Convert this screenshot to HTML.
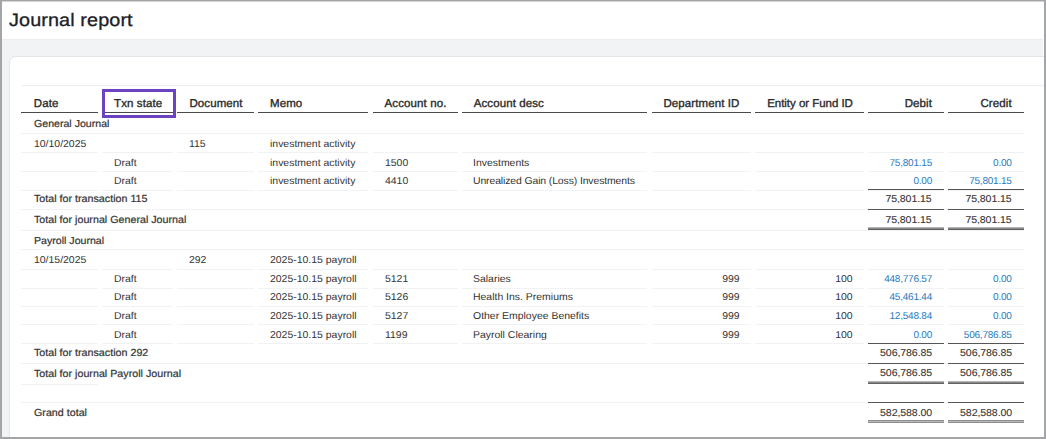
<!DOCTYPE html>
<html><head><meta charset="utf-8"><title>Journal report</title>
<style>
*{margin:0;padding:0;box-sizing:border-box}
html,body{width:1046px;height:439px;overflow:hidden;background:#fff}
body{position:relative;font-family:"Liberation Sans", Arial, sans-serif;color:#333;text-rendering:geometricPrecision}
.frame{position:absolute;left:0;top:0;width:1046px;height:439px;border:2px solid #a4a5a7;border-top-width:1px;pointer-events:none;z-index:10}
.title{position:absolute;left:9.2px;font-size:18px;line-height:22px;letter-spacing:0.1px;transform:scaleX(1.1);transform-origin:0 0;color:#1e2126;white-space:nowrap;-webkit-text-stroke:0.3px #1e2126}
.band{position:absolute;left:2px;top:39px;width:1041px;height:400px;background:#f1f3f5;border-top:1px solid #ebeef1}
.card{position:absolute;left:9px;top:56px;width:1046px;height:420px;background:#fff;border:1px solid #e2e6ea;border-radius:6px}
.topline{position:absolute;left:21.5px;top:84.5px;width:1022px;height:1px;background:#eceef0}
.t{position:absolute;white-space:nowrap}
.t i{font-style:normal;letter-spacing:-1.3px}
.h{color:#2a2a2a;-webkit-text-stroke:0.35px #2a2a2a;letter-spacing:0.1px}
.bl{color:#2878c0;letter-spacing:-0.22px}
.tn{color:#333;letter-spacing:-0.1px;-webkit-text-stroke:0.1px #333}
.tt{color:#333;-webkit-text-stroke:0.2px #333}
.ln{position:absolute}
.sel{position:absolute;left:102px;top:89px;width:74px;height:29px;border:3px solid #6a42c2;z-index:5}
</style></head><body>
<div class="band"></div>
<div class="card"></div>
<div class="topline"></div>
<div class="title" style="top:8.8px">Journal report</div>
<span class="t h" style="top:98.00px;font-size:11.5px;line-height:13.8px;left:33.80px;">Date</span>
<div class="ln" style="left:21px;width:77px;top:112px;height:1px;background:#4a4a4a"></div>
<span class="t h" style="top:98.00px;font-size:11.5px;line-height:13.8px;left:114.10px;">Txn state</span>
<div class="ln" style="left:102.5px;width:70.5px;top:112px;height:1px;background:#4a4a4a"></div>
<span class="t h" style="top:98.00px;font-size:11.5px;line-height:13.8px;left:189.40px;">Document</span>
<div class="ln" style="left:177px;width:76.5px;top:112px;height:1px;background:#4a4a4a"></div>
<span class="t h" style="top:98.00px;font-size:11.5px;line-height:13.8px;left:270.00px;">Memo</span>
<div class="ln" style="left:258px;width:110px;top:112px;height:1px;background:#4a4a4a"></div>
<span class="t h" style="top:98.00px;font-size:11.5px;line-height:13.8px;left:384.60px;">Account no.</span>
<div class="ln" style="left:372.5px;width:85.0px;top:112px;height:1px;background:#4a4a4a"></div>
<span class="t h" style="top:98.00px;font-size:11.5px;line-height:13.8px;left:473.70px;">Account desc</span>
<div class="ln" style="left:462px;width:185px;top:112px;height:1px;background:#4a4a4a"></div>
<span class="t h" style="top:98.00px;font-size:11.5px;line-height:13.8px;right:306.50px;">Department ID</span>
<div class="ln" style="left:651.5px;width:99.0px;top:112px;height:1px;background:#4a4a4a"></div>
<span class="t h" style="top:98.00px;font-size:11.5px;line-height:13.8px;right:193.20px;"><span style="letter-spacing:-0.04px">Entity or Fund ID</span></span>
<div class="ln" style="left:754.5px;width:109.5px;top:112px;height:1px;background:#4a4a4a"></div>
<span class="t h" style="top:98.00px;font-size:11.5px;line-height:13.8px;right:114.00px;">Debit</span>
<div class="ln" style="left:868px;width:76px;top:112px;height:1px;background:#4a4a4a"></div>
<span class="t h" style="top:98.00px;font-size:11.5px;line-height:13.8px;right:34.30px;">Credit</span>
<div class="ln" style="left:948px;width:76px;top:112px;height:1px;background:#4a4a4a"></div>
<span class="t tt" style="top:119.00px;font-size:10.1px;line-height:12.12px;left:33.80px;transform:scaleX(1.05);transform-origin:0 0;">General Journal</span>
<div class="ln" style="left:21px;width:1003px;top:133px;height:1px;background:#f1f2f4"></div>
<span class="t" style="top:139.00px;font-size:10.0px;line-height:12.0px;left:33.80px;transform:scaleX(1.045);transform-origin:0 0;">10/10/2025</span>
<span class="t" style="top:139.00px;font-size:10.0px;line-height:12.0px;left:189.40px;transform:scaleX(1.045);transform-origin:0 0;">115</span>
<span class="t" style="top:139.00px;font-size:10.0px;line-height:12.0px;left:270.00px;transform:scaleX(1.045);transform-origin:0 0;">investment activity</span>
<div class="ln" style="left:21px;width:77px;top:152.2px;height:1px;background:#f1f2f4"></div>
<div class="ln" style="left:102.5px;width:70.5px;top:152.2px;height:1px;background:#f1f2f4"></div>
<div class="ln" style="left:177px;width:76.5px;top:152.2px;height:1px;background:#f1f2f4"></div>
<div class="ln" style="left:258px;width:110px;top:152.2px;height:1px;background:#f1f2f4"></div>
<div class="ln" style="left:372.5px;width:85.0px;top:152.2px;height:1px;background:#f1f2f4"></div>
<div class="ln" style="left:462px;width:185px;top:152.2px;height:1px;background:#f1f2f4"></div>
<div class="ln" style="left:651.5px;width:99.0px;top:152.2px;height:1px;background:#f1f2f4"></div>
<div class="ln" style="left:754.5px;width:109.5px;top:152.2px;height:1px;background:#f1f2f4"></div>
<div class="ln" style="left:868px;width:76px;top:152.2px;height:1px;background:#f1f2f4"></div>
<div class="ln" style="left:948px;width:76px;top:152.2px;height:1px;background:#f1f2f4"></div>
<span class="t" style="top:158.00px;font-size:10.0px;line-height:12.0px;left:114.10px;transform:scaleX(1.045);transform-origin:0 0;">Draft</span>
<span class="t" style="top:158.00px;font-size:10.0px;line-height:12.0px;left:270.00px;transform:scaleX(1.045);transform-origin:0 0;">investment activity</span>
<span class="t" style="top:158.00px;font-size:10.0px;line-height:12.0px;left:384.60px;transform:scaleX(1.045);transform-origin:0 0;">1500</span>
<span class="t" style="top:158.00px;font-size:10.0px;line-height:12.0px;left:473.10px;transform:scaleX(1.045);transform-origin:0 0;">Investments</span>
<span class="t bl" style="top:158.00px;font-size:10.0px;line-height:12.0px;right:114.00px;">75,801.15</span>
<span class="t bl" style="top:158.00px;font-size:10.0px;line-height:12.0px;right:34.30px;">0.00</span>
<div class="ln" style="left:21px;width:77px;top:171px;height:1px;background:#f1f2f4"></div>
<div class="ln" style="left:102.5px;width:70.5px;top:171px;height:1px;background:#f1f2f4"></div>
<div class="ln" style="left:177px;width:76.5px;top:171px;height:1px;background:#f1f2f4"></div>
<div class="ln" style="left:258px;width:110px;top:171px;height:1px;background:#f1f2f4"></div>
<div class="ln" style="left:372.5px;width:85.0px;top:171px;height:1px;background:#f1f2f4"></div>
<div class="ln" style="left:462px;width:185px;top:171px;height:1px;background:#f1f2f4"></div>
<div class="ln" style="left:651.5px;width:99.0px;top:171px;height:1px;background:#f1f2f4"></div>
<div class="ln" style="left:754.5px;width:109.5px;top:171px;height:1px;background:#f1f2f4"></div>
<div class="ln" style="left:868px;width:76px;top:171px;height:1px;background:#f1f2f4"></div>
<div class="ln" style="left:948px;width:76px;top:171px;height:1px;background:#f1f2f4"></div>
<span class="t" style="top:176.00px;font-size:10.0px;line-height:12.0px;left:114.10px;transform:scaleX(1.045);transform-origin:0 0;">Draft</span>
<span class="t" style="top:176.00px;font-size:10.0px;line-height:12.0px;left:270.00px;transform:scaleX(1.045);transform-origin:0 0;">investment activity</span>
<span class="t" style="top:176.00px;font-size:10.0px;line-height:12.0px;left:384.60px;transform:scaleX(1.045);transform-origin:0 0;">4410</span>
<span class="t" style="top:176.00px;font-size:10.0px;line-height:12.0px;left:473.10px;transform:scaleX(1.045);transform-origin:0 0;"><span style="letter-spacing:-0.12px">Unrealized Gain (Loss) Investments</span></span>
<span class="t bl" style="top:176.00px;font-size:10.0px;line-height:12.0px;right:114.00px;">0.00</span>
<span class="t bl" style="top:176.00px;font-size:10.0px;line-height:12.0px;right:34.30px;">75,801.15</span>
<div class="ln" style="left:21px;width:77px;top:189.5px;height:1px;background:#f1f2f4"></div>
<div class="ln" style="left:102.5px;width:70.5px;top:189.5px;height:1px;background:#f1f2f4"></div>
<div class="ln" style="left:177px;width:76.5px;top:189.5px;height:1px;background:#f1f2f4"></div>
<div class="ln" style="left:258px;width:110px;top:189.5px;height:1px;background:#f1f2f4"></div>
<div class="ln" style="left:372.5px;width:85.0px;top:189.5px;height:1px;background:#f1f2f4"></div>
<div class="ln" style="left:462px;width:185px;top:189.5px;height:1px;background:#f1f2f4"></div>
<div class="ln" style="left:651.5px;width:99.0px;top:189.5px;height:1px;background:#f1f2f4"></div>
<div class="ln" style="left:754.5px;width:109.5px;top:189.5px;height:1px;background:#f1f2f4"></div>
<div class="ln" style="left:868px;width:76px;top:189.5px;height:1px;background:#f1f2f4"></div>
<div class="ln" style="left:948px;width:76px;top:189.5px;height:1px;background:#f1f2f4"></div>
<span class="t tt" style="top:194.00px;font-size:10.3px;line-height:12.36px;left:33.80px;transform:scaleX(1.04);transform-origin:0 0;">Total for transaction 115</span>
<span class="t tn" style="top:194.00px;font-size:10.0px;line-height:12.0px;right:114.00px;transform:scaleX(1.06);transform-origin:100% 0;">75,801.15</span>
<span class="t tn" style="top:194.00px;font-size:10.0px;line-height:12.0px;right:34.30px;transform:scaleX(1.06);transform-origin:100% 0;">75,801.15</span>
<div class="ln" style="left:21px;width:1003px;top:208.6px;height:1px;background:#f1f2f4"></div>
<span class="t tt" style="top:215.00px;font-size:10.3px;line-height:12.36px;left:33.80px;transform:scaleX(1.04);transform-origin:0 0;">Total for journal General Journal</span>
<span class="t tn" style="top:215.00px;font-size:10.0px;line-height:12.0px;right:114.00px;transform:scaleX(1.06);transform-origin:100% 0;">75,801.15</span>
<span class="t tn" style="top:215.00px;font-size:10.0px;line-height:12.0px;right:34.30px;transform:scaleX(1.06);transform-origin:100% 0;">75,801.15</span>
<div class="ln" style="left:21px;width:1003px;top:230.2px;height:1px;background:#f1f2f4"></div>
<span class="t tt" style="top:236.00px;font-size:10.1px;line-height:12.12px;left:33.80px;transform:scaleX(1.05);transform-origin:0 0;">Payroll Journal</span>
<div class="ln" style="left:21px;width:1003px;top:249.4px;height:1px;background:#f1f2f4"></div>
<span class="t" style="top:255.00px;font-size:10.0px;line-height:12.0px;left:33.80px;transform:scaleX(1.045);transform-origin:0 0;">10/15/2025</span>
<span class="t" style="top:255.00px;font-size:10.0px;line-height:12.0px;left:189.40px;transform:scaleX(1.045);transform-origin:0 0;">292</span>
<span class="t" style="top:255.00px;font-size:10.0px;line-height:12.0px;left:270.00px;transform:scaleX(1.045);transform-origin:0 0;">2025-10.15 payroll</span>
<div class="ln" style="left:21px;width:77px;top:268.9px;height:1px;background:#f1f2f4"></div>
<div class="ln" style="left:102.5px;width:70.5px;top:268.9px;height:1px;background:#f1f2f4"></div>
<div class="ln" style="left:177px;width:76.5px;top:268.9px;height:1px;background:#f1f2f4"></div>
<div class="ln" style="left:258px;width:110px;top:268.9px;height:1px;background:#f1f2f4"></div>
<div class="ln" style="left:372.5px;width:85.0px;top:268.9px;height:1px;background:#f1f2f4"></div>
<div class="ln" style="left:462px;width:185px;top:268.9px;height:1px;background:#f1f2f4"></div>
<div class="ln" style="left:651.5px;width:99.0px;top:268.9px;height:1px;background:#f1f2f4"></div>
<div class="ln" style="left:754.5px;width:109.5px;top:268.9px;height:1px;background:#f1f2f4"></div>
<div class="ln" style="left:868px;width:76px;top:268.9px;height:1px;background:#f1f2f4"></div>
<div class="ln" style="left:948px;width:76px;top:268.9px;height:1px;background:#f1f2f4"></div>
<span class="t" style="top:274.00px;font-size:10.0px;line-height:12.0px;left:114.10px;transform:scaleX(1.045);transform-origin:0 0;">Draft</span>
<span class="t" style="top:274.00px;font-size:10.0px;line-height:12.0px;left:270.00px;transform:scaleX(1.045);transform-origin:0 0;">2025-10.15 payroll</span>
<span class="t" style="top:274.00px;font-size:10.0px;line-height:12.0px;left:384.60px;transform:scaleX(1.045);transform-origin:0 0;">5121</span>
<span class="t" style="top:274.00px;font-size:10.0px;line-height:12.0px;left:473.10px;transform:scaleX(1.045);transform-origin:0 0;">Salaries</span>
<span class="t" style="top:274.00px;font-size:10.0px;line-height:12.0px;right:306.50px;transform:scaleX(1.045);transform-origin:100% 0;">999</span>
<span class="t" style="top:274.00px;font-size:10.0px;line-height:12.0px;right:193.20px;transform:scaleX(1.045);transform-origin:100% 0;">100</span>
<span class="t bl" style="top:274.00px;font-size:10.0px;line-height:12.0px;right:114.00px;">448,776.57</span>
<span class="t bl" style="top:274.00px;font-size:10.0px;line-height:12.0px;right:34.30px;">0.00</span>
<div class="ln" style="left:21px;width:77px;top:287.6px;height:1px;background:#f1f2f4"></div>
<div class="ln" style="left:102.5px;width:70.5px;top:287.6px;height:1px;background:#f1f2f4"></div>
<div class="ln" style="left:177px;width:76.5px;top:287.6px;height:1px;background:#f1f2f4"></div>
<div class="ln" style="left:258px;width:110px;top:287.6px;height:1px;background:#f1f2f4"></div>
<div class="ln" style="left:372.5px;width:85.0px;top:287.6px;height:1px;background:#f1f2f4"></div>
<div class="ln" style="left:462px;width:185px;top:287.6px;height:1px;background:#f1f2f4"></div>
<div class="ln" style="left:651.5px;width:99.0px;top:287.6px;height:1px;background:#f1f2f4"></div>
<div class="ln" style="left:754.5px;width:109.5px;top:287.6px;height:1px;background:#f1f2f4"></div>
<div class="ln" style="left:868px;width:76px;top:287.6px;height:1px;background:#f1f2f4"></div>
<div class="ln" style="left:948px;width:76px;top:287.6px;height:1px;background:#f1f2f4"></div>
<span class="t" style="top:292.00px;font-size:10.0px;line-height:12.0px;left:114.10px;transform:scaleX(1.045);transform-origin:0 0;">Draft</span>
<span class="t" style="top:292.00px;font-size:10.0px;line-height:12.0px;left:270.00px;transform:scaleX(1.045);transform-origin:0 0;">2025-10.15 payroll</span>
<span class="t" style="top:292.00px;font-size:10.0px;line-height:12.0px;left:384.60px;transform:scaleX(1.045);transform-origin:0 0;">5126</span>
<span class="t" style="top:292.00px;font-size:10.0px;line-height:12.0px;left:473.10px;transform:scaleX(1.045);transform-origin:0 0;">Health Ins. Premiums</span>
<span class="t" style="top:292.00px;font-size:10.0px;line-height:12.0px;right:306.50px;transform:scaleX(1.045);transform-origin:100% 0;">999</span>
<span class="t" style="top:292.00px;font-size:10.0px;line-height:12.0px;right:193.20px;transform:scaleX(1.045);transform-origin:100% 0;">100</span>
<span class="t bl" style="top:292.00px;font-size:10.0px;line-height:12.0px;right:114.00px;">45,461.44</span>
<span class="t bl" style="top:292.00px;font-size:10.0px;line-height:12.0px;right:34.30px;">0.00</span>
<div class="ln" style="left:21px;width:77px;top:306px;height:1px;background:#f1f2f4"></div>
<div class="ln" style="left:102.5px;width:70.5px;top:306px;height:1px;background:#f1f2f4"></div>
<div class="ln" style="left:177px;width:76.5px;top:306px;height:1px;background:#f1f2f4"></div>
<div class="ln" style="left:258px;width:110px;top:306px;height:1px;background:#f1f2f4"></div>
<div class="ln" style="left:372.5px;width:85.0px;top:306px;height:1px;background:#f1f2f4"></div>
<div class="ln" style="left:462px;width:185px;top:306px;height:1px;background:#f1f2f4"></div>
<div class="ln" style="left:651.5px;width:99.0px;top:306px;height:1px;background:#f1f2f4"></div>
<div class="ln" style="left:754.5px;width:109.5px;top:306px;height:1px;background:#f1f2f4"></div>
<div class="ln" style="left:868px;width:76px;top:306px;height:1px;background:#f1f2f4"></div>
<div class="ln" style="left:948px;width:76px;top:306px;height:1px;background:#f1f2f4"></div>
<span class="t" style="top:311.00px;font-size:10.0px;line-height:12.0px;left:114.10px;transform:scaleX(1.045);transform-origin:0 0;">Draft</span>
<span class="t" style="top:311.00px;font-size:10.0px;line-height:12.0px;left:270.00px;transform:scaleX(1.045);transform-origin:0 0;">2025-10.15 payroll</span>
<span class="t" style="top:311.00px;font-size:10.0px;line-height:12.0px;left:384.60px;transform:scaleX(1.045);transform-origin:0 0;">5127</span>
<span class="t" style="top:311.00px;font-size:10.0px;line-height:12.0px;left:473.10px;transform:scaleX(1.045);transform-origin:0 0;">Other Employee Benefits</span>
<span class="t" style="top:311.00px;font-size:10.0px;line-height:12.0px;right:306.50px;transform:scaleX(1.045);transform-origin:100% 0;">999</span>
<span class="t" style="top:311.00px;font-size:10.0px;line-height:12.0px;right:193.20px;transform:scaleX(1.045);transform-origin:100% 0;">100</span>
<span class="t bl" style="top:311.00px;font-size:10.0px;line-height:12.0px;right:114.00px;">12,548.84</span>
<span class="t bl" style="top:311.00px;font-size:10.0px;line-height:12.0px;right:34.30px;">0.00</span>
<div class="ln" style="left:21px;width:77px;top:324.4px;height:1px;background:#f1f2f4"></div>
<div class="ln" style="left:102.5px;width:70.5px;top:324.4px;height:1px;background:#f1f2f4"></div>
<div class="ln" style="left:177px;width:76.5px;top:324.4px;height:1px;background:#f1f2f4"></div>
<div class="ln" style="left:258px;width:110px;top:324.4px;height:1px;background:#f1f2f4"></div>
<div class="ln" style="left:372.5px;width:85.0px;top:324.4px;height:1px;background:#f1f2f4"></div>
<div class="ln" style="left:462px;width:185px;top:324.4px;height:1px;background:#f1f2f4"></div>
<div class="ln" style="left:651.5px;width:99.0px;top:324.4px;height:1px;background:#f1f2f4"></div>
<div class="ln" style="left:754.5px;width:109.5px;top:324.4px;height:1px;background:#f1f2f4"></div>
<div class="ln" style="left:868px;width:76px;top:324.4px;height:1px;background:#f1f2f4"></div>
<div class="ln" style="left:948px;width:76px;top:324.4px;height:1px;background:#f1f2f4"></div>
<span class="t" style="top:330.00px;font-size:10.0px;line-height:12.0px;left:114.10px;transform:scaleX(1.045);transform-origin:0 0;">Draft</span>
<span class="t" style="top:330.00px;font-size:10.0px;line-height:12.0px;left:270.00px;transform:scaleX(1.045);transform-origin:0 0;">2025-10.15 payroll</span>
<span class="t" style="top:330.00px;font-size:10.0px;line-height:12.0px;left:384.60px;transform:scaleX(1.045);transform-origin:0 0;">1199</span>
<span class="t" style="top:330.00px;font-size:10.0px;line-height:12.0px;left:473.10px;transform:scaleX(1.045);transform-origin:0 0;">Payroll Clearing</span>
<span class="t" style="top:330.00px;font-size:10.0px;line-height:12.0px;right:306.50px;transform:scaleX(1.045);transform-origin:100% 0;">999</span>
<span class="t" style="top:330.00px;font-size:10.0px;line-height:12.0px;right:193.20px;transform:scaleX(1.045);transform-origin:100% 0;">100</span>
<span class="t bl" style="top:330.00px;font-size:10.0px;line-height:12.0px;right:114.00px;">0.00</span>
<span class="t bl" style="top:330.00px;font-size:10.0px;line-height:12.0px;right:34.30px;">506,786.85</span>
<div class="ln" style="left:21px;width:77px;top:343.2px;height:1px;background:#f1f2f4"></div>
<div class="ln" style="left:102.5px;width:70.5px;top:343.2px;height:1px;background:#f1f2f4"></div>
<div class="ln" style="left:177px;width:76.5px;top:343.2px;height:1px;background:#f1f2f4"></div>
<div class="ln" style="left:258px;width:110px;top:343.2px;height:1px;background:#f1f2f4"></div>
<div class="ln" style="left:372.5px;width:85.0px;top:343.2px;height:1px;background:#f1f2f4"></div>
<div class="ln" style="left:462px;width:185px;top:343.2px;height:1px;background:#f1f2f4"></div>
<div class="ln" style="left:651.5px;width:99.0px;top:343.2px;height:1px;background:#f1f2f4"></div>
<div class="ln" style="left:754.5px;width:109.5px;top:343.2px;height:1px;background:#f1f2f4"></div>
<div class="ln" style="left:868px;width:76px;top:343.2px;height:1px;background:#f1f2f4"></div>
<div class="ln" style="left:948px;width:76px;top:343.2px;height:1px;background:#f1f2f4"></div>
<span class="t tt" style="top:348.00px;font-size:10.3px;line-height:12.36px;left:33.80px;transform:scaleX(1.04);transform-origin:0 0;">Total for transaction 292</span>
<span class="t tn" style="top:348.00px;font-size:10.0px;line-height:12.0px;right:114.00px;transform:scaleX(1.06);transform-origin:100% 0;">506,786.85</span>
<span class="t tn" style="top:348.00px;font-size:10.0px;line-height:12.0px;right:34.30px;transform:scaleX(1.06);transform-origin:100% 0;">506,786.85</span>
<div class="ln" style="left:21px;width:1003px;top:362.9px;height:1px;background:#f1f2f4"></div>
<span class="t tt" style="top:369.00px;font-size:10.3px;line-height:12.36px;left:33.80px;transform:scaleX(1.04);transform-origin:0 0;">Total for journal Payroll Journal</span>
<span class="t tn" style="top:368.00px;font-size:10.0px;line-height:12.0px;right:114.00px;transform:scaleX(1.06);transform-origin:100% 0;">506,786.85</span>
<span class="t tn" style="top:368.00px;font-size:10.0px;line-height:12.0px;right:34.30px;transform:scaleX(1.06);transform-origin:100% 0;">506,786.85</span>
<div class="ln" style="left:21px;width:77px;top:383.5px;height:1px;background:#f1f2f4"></div>
<div class="ln" style="left:21px;width:1003px;top:402.2px;height:1px;background:#f1f2f4"></div>
<span class="t tt" style="top:408.00px;font-size:10.3px;line-height:12.36px;left:33.80px;transform:scaleX(1.04);transform-origin:0 0;">Grand total</span>
<span class="t tn" style="top:408.00px;font-size:10.0px;line-height:12.0px;right:114.00px;transform:scaleX(1.06);transform-origin:100% 0;">582,588.00</span>
<span class="t tn" style="top:408.00px;font-size:10.0px;line-height:12.0px;right:34.30px;transform:scaleX(1.06);transform-origin:100% 0;">582,588.00</span>
<div class="ln" style="left:868px;width:76px;top:189px;height:1px;background:#555"></div>
<div class="ln" style="left:948px;width:76px;top:189px;height:1px;background:#555"></div>
<div class="ln" style="left:868px;width:76px;top:209px;height:1px;background:#555"></div>
<div class="ln" style="left:948px;width:76px;top:209px;height:1px;background:#555"></div>
<div class="ln" style="left:868px;width:76px;top:227px;height:3px;background:linear-gradient(#b4b4b4 0 1px,#8a8a8a 1px 2px,#626262 2px 3px)"></div>
<div class="ln" style="left:948px;width:76px;top:227px;height:3px;background:linear-gradient(#b4b4b4 0 1px,#8a8a8a 1px 2px,#626262 2px 3px)"></div>
<div class="ln" style="left:868px;width:76px;top:343px;height:1px;background:#555"></div>
<div class="ln" style="left:948px;width:76px;top:343px;height:1px;background:#555"></div>
<div class="ln" style="left:868px;width:76px;top:363px;height:1px;background:#555"></div>
<div class="ln" style="left:948px;width:76px;top:363px;height:1px;background:#555"></div>
<div class="ln" style="left:868px;width:76px;top:381px;height:3px;background:linear-gradient(#b4b4b4 0 1px,#8a8a8a 1px 2px,#626262 2px 3px)"></div>
<div class="ln" style="left:948px;width:76px;top:381px;height:3px;background:linear-gradient(#b4b4b4 0 1px,#8a8a8a 1px 2px,#626262 2px 3px)"></div>
<div class="ln" style="left:868px;width:76px;top:402px;height:1px;background:#555"></div>
<div class="ln" style="left:948px;width:76px;top:402px;height:1px;background:#555"></div>
<div class="ln" style="left:868px;width:76px;top:420px;height:3px;background:linear-gradient(#8e8e8e 0 1px,#b8b8b8 1px 2px,#8e8e8e 2px 3px)"></div>
<div class="ln" style="left:948px;width:76px;top:420px;height:3px;background:linear-gradient(#8e8e8e 0 1px,#b8b8b8 1px 2px,#8e8e8e 2px 3px)"></div>
<div class="sel"></div>
<div class="frame"></div>
<div style="position:absolute;left:2px;top:1px;width:1042px;height:1px;background:#d2d3d4;z-index:11"></div>
</body></html>
